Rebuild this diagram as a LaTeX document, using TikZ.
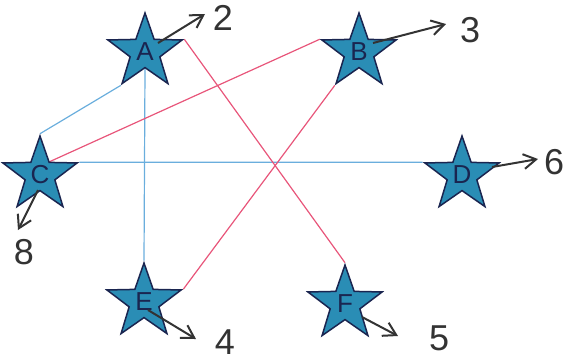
\documentclass[tikz,border=0pt]{standalone}
\usepackage{fontspec}
\setmainfont{Liberation Sans}
\usepackage{xcolor}
\usepackage{tikz}
\usetikzlibrary{arrows.meta,shapes.geometric,calc,backgrounds}
\definecolor{stTeal}{HTML}{2A8DB5}
\definecolor{stInk}{HTML}{1A2550}
\definecolor{stSky}{HTML}{6AAEDD}
\definecolor{stRose}{HTML}{E8557A}
\definecolor{stPen}{HTML}{333333}
\tikzset{
  star node/.style={star,star points=5,star point ratio=2.5,draw=stInk,line width=0.75pt,
    fill=stTeal,minimum size=39pt,inner sep=0pt,text=stInk,font=\fontsize{13}{14}\selectfont},
  sky link/.style={draw=stSky,line width=0.6pt},
  rose link/.style={draw=stRose,line width=0.6pt},
  pen arrow/.style={-{Straight Barb[length=2.2mm,width=2.6mm]},line width=1pt,draw=stPen},
  digit/.style={font=\fontsize{18}{20}\selectfont,text=stPen,inner sep=0pt}
}

\begin{document}
\begin{tikzpicture}[x=0.5pt,y=-0.5pt]
\useasboundingbox (0,0) rectangle (565,361);
\node[star node] (A) at (145,52) {A};
\node[star node] (B) at (359,52) {B};
\node[star node] (C) at (40,175) {C};
\node[star node] (D) at (462,175) {D};
\node[star node] (E) at (144,302) {E};
\node[star node] (F) at (345,304) {F};
% links behind the stars
\begin{scope}[on background layer]
\draw[sky link] (A.234) -- (C.90);
\draw[sky link] (A.270) -- (E.90);
\draw[sky link] (C.18) -- (D.162);
\draw[rose link] (A.18) -- (F.90);
\draw[rose link] (B.162) -- (C.54);
\draw[rose link] (B.234) -- (E.18);
\end{scope}
% outgoing numbers
\node[digit] (n2) at (223,18) {2};
\node[digit] (n3) at (470,30) {3};
\node[digit] (n8) at (24,252) {8};
\node[digit] (n6) at (554,162) {6};
\node[digit] (n4) at (225,342) {4};
\node[digit] (n5) at (439,338) {5};
\coordinate (t2) at (205,14);
\coordinate (t3) at (446,24);
\coordinate (t8) at (18,230);
\coordinate (t6) at (538,159);
\coordinate (t4) at (196,339);
\coordinate (t5) at (398,336);
\draw[pen arrow] ($(A)+(13,-9)$) -- (t2);
\draw[pen arrow] ($(B)+(14,-9)$) -- (t3);
\draw[pen arrow] ($(C)+(-2,15)$) -- (t8);
\draw[pen arrow] ($(D)+(30,-8)$) -- (t6);
\draw[pen arrow] ($(E)+(4,8)$) -- (t4);
\draw[pen arrow] ($(F)+(17,13)$) -- (t5);
\end{tikzpicture}
\end{document}
